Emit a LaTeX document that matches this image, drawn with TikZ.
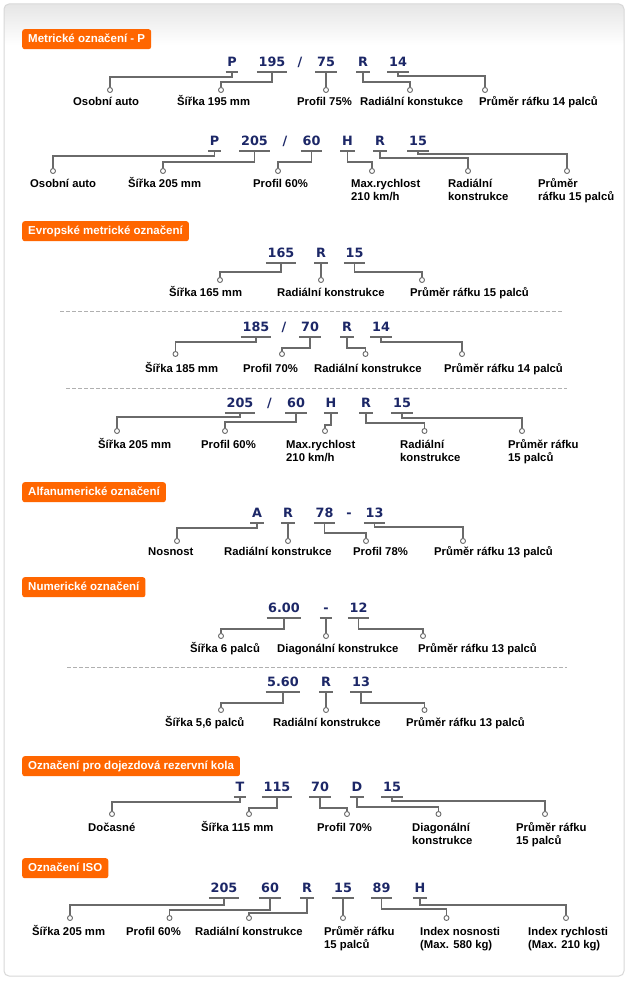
\documentclass[tikz,border=0pt]{standalone}
\usepackage{fontspec}
\setmainfont{Liberation Sans}
\newfontfamily\codefont{DejaVu Sans}
\definecolor{hdrorange}{HTML}{FF6600}
\definecolor{codeblue}{HTML}{1C2767}
\definecolor{linegray}{HTML}{6A6A6A}
\definecolor{framegray}{HTML}{D8D8D8}
\definecolor{dashgray}{HTML}{B0B0B0}

\begin{document}
\begin{tikzpicture}[x=1pt,y=-1pt,
  hdr/.style={anchor=north west,fill=hdrorange,text=white,rounded corners=2.5pt,
    font=\bfseries\fontsize{11.5}{13}\selectfont,inner xsep=6pt,inner ysep=0pt,
    minimum height=20pt,text height=8.5pt,text depth=2.5pt},
  link/.style={draw=linegray,line width=1.2pt},
  tsep/.style={anchor=south,text=codeblue,font=\codefont\bfseries\fontsize{12.8}{14}\selectfont,
    text height=9pt,text depth=0pt,inner xsep=1.5pt,inner ysep=5.5pt},
  tcode/.style={tsep,minimum width=12pt,append after command={(\tikzlastnode.south west) edge[link] (\tikzlastnode.south east)}},
  ring/.style={circle,draw=linegray,fill=white,line width=0.9pt,minimum size=5pt,inner sep=0pt},
  lbl/.style={anchor=north west,yshift=11pt,align=left,inner sep=0pt,font=\bfseries\fontsize{11.3}{13}\selectfont},
  sepline/.style={draw=dashgray,dash pattern=on 4pt off 2pt,line width=1pt}]
  \useasboundingbox (0,0) rectangle (629,981);
  \fill[white] (0,0) rectangle (629,981);
  \shade[top color=black!10,bottom color=white,rounded corners=5pt] (4,45) -- (4,4) -- (624,4) -- (624,45) -- cycle;
  \draw[framegray,line width=1pt,rounded corners=5pt] (4,4) rectangle (624,976);

  \node[hdr] (h1) at (22,29) {Metrické označení - P};
  \node[tsep] (a-sl) at (300,72) {/};
  \foreach \nm/\txt/\cx/\dy/\ox/\lx/\lab in {1/P/232/5/110/73/Osobní auto,2/195/272/10/221/177/Šířka 195 mm,
      3/75/326/0/326/297/Profil 75\%,4/R/363/10/410/360/Radiální konstukce,5/14/398/4/485/479/Průměr ráfku 14 palců} {
    \node[tcode] (a\nm) at (\cx,72) {\txt};
    \node[ring] (a\nm-o) at (\ox,90) {};
    \node[lbl] (a\nm-l) at (\lx,105) {\rule{0pt}{11pt}\lab};
    \draw[link] (a\nm.south) -- ++(0,\dy) -| (a\nm-o.north);
  }

  \node[tsep] (b-sl) at (285,151) {/};
  \foreach \nm/\txt/\cx/\dy/\ox/\lx/\lab in {1/P/214.5/5/53/30/Osobní auto,2/205/254.5/11/163/128/Šířka 205 mm,
      3/60/311.5/11/278/253/Profil 60\%,4/H/347.5/11/372/351/{Max.rychlost\\210 km/h},
      5/R/380/7/468/448/{Radiální\\konstrukce},6/15/418/3/567/538/{Průměr\\ráfku 15 palců}} {
    \node[tcode] (b\nm) at (\cx,151) {\txt};
    \node[ring] (b\nm-o) at (\ox,171) {};
    \node[lbl] (b\nm-l) at (\lx,187) {\rule{0pt}{11pt}\lab};
    \draw[link] (b\nm.south) -- ++(0,\dy) -| (b\nm-o.north);
  }

  \node[hdr] (h2) at (22,221) {Evropské metrické označení};
  \foreach \nm/\txt/\cx/\dy/\ox/\lx/\lab in {1/165/281/9/220/169/Šířka 165 mm,2/R/321/0/321/277/Radiální konstrukce,
      3/15/354.5/9/422/410/Průměr ráfku 15 palců} {
    \node[tcode] (c\nm) at (\cx,263) {\txt};
    \node[ring] (c\nm-o) at (\ox,280) {};
    \node[lbl] (c\nm-l) at (\lx,296) {\rule{0pt}{11pt}\lab};
    \draw[link] (c\nm.south) -- ++(0,\dy) -| (c\nm-o.north);
  }
  \draw[sepline] (60,311) -- (562,311);

  \node[tsep] (d-sl) at (284,337) {/};
  \foreach \nm/\txt/\cx/\dy/\ox/\lx/\lab in {1/185/256/5/175.5/145/Šířka 185 mm,2/70/310/11/282/243/Profil 70\%,
      3/R/347/11/365.5/314/Radiální konstrukce,4/14/381/5/462/444/Průměr ráfku 14 palců} {
    \node[tcode] (d\nm) at (\cx,337) {\txt};
    \node[ring] (d\nm-o) at (\ox,354) {};
    \node[lbl] (d\nm-l) at (\lx,372) {\rule{0pt}{11pt}\lab};
    \draw[link] (d\nm.south) -- ++(0,\dy) -| (d\nm-o.north);
  }
  \draw[sepline] (66,388) -- (567,388);

  \node[tsep] (e-sl) at (269.5,413) {/};
  \foreach \nm/\txt/\cx/\dy/\ox/\lx/\lab in {1/205/240/4/117/98/Šířka 205 mm,2/60/296/9/225/201/Profil 60\%,
      3/H/331/12/325/286/{Max.rychlost\\210 km/h},4/R/366/10/424.5/400/{Radiální\\konstrukce},
      5/15/402/5/522/508/{Průměr ráfku\\15 palců}} {
    \node[tcode] (e\nm) at (\cx,413) {\txt};
    \node[ring] (e\nm-o) at (\ox,431) {};
    \node[lbl] (e\nm-l) at (\lx,448) {\rule{0pt}{11pt}\lab};
    \draw[link] (e\nm.south) -- ++(0,\dy) -| (e\nm-o.north);
  }

  \node[hdr] (h3) at (22,482) {Alfanumerické označení};
  \node[tsep] (f-sl) at (349,523) {-};
  \foreach \nm/\txt/\cx/\dy/\ox/\lx/\lab in {1/A/257/5/177/148/Nosnost,2/R/288/0/288/224/Radiální konstrukce,
      3/78/324.5/10/366/353/Profil 78\%,4/13/374.5/4/463/434/Průměr ráfku 13 palců} {
    \node[tcode] (f\nm) at (\cx,523) {\txt};
    \node[ring] (f\nm-o) at (\ox,541) {};
    \node[lbl] (f\nm-l) at (\lx,555) {\rule{0pt}{11pt}\lab};
    \draw[link] (f\nm.south) -- ++(0,\dy) -| (f\nm-o.north);
  }

  \node[hdr] (h4) at (22,577) {Numerické označení};
  \foreach \nm/\txt/\cx/\dy/\ox/\lx/\lab in {1/6.00/284/11/221/190/Šířka 6 palců,2/-/326/0/326/277/Diagonální konstrukce,
      3/12/358.5/11/423/418/Průměr ráfku 13 palců} {
    \node[tcode] (g\nm) at (\cx,618) {\txt};
    \node[ring] (g\nm-o) at (\ox,636) {};
    \node[lbl] (g\nm-l) at (\lx,652) {\rule{0pt}{11pt}\lab};
    \draw[link] (g\nm.south) -- ++(0,\dy) -| (g\nm-o.north);
  }
  \draw[sepline] (67,667) -- (567,667);

  \foreach \nm/\txt/\cx/\dy/\ox/\lx/\lab in {1/5.60/283/11/221/165/{Šířka 5,6 palců},2/R/326/0/326/273/Radiální konstrukce,
      3/13/361/11/424.5/406/Průměr ráfku 13 palců} {
    \node[tcode] (k\nm) at (\cx,692) {\txt};
    \node[ring] (k\nm-o) at (\ox,710) {};
    \node[lbl] (k\nm-l) at (\lx,726) {\rule{0pt}{11pt}\lab};
    \draw[link] (k\nm.south) -- ++(0,\dy) -| (k\nm-o.north);
  }

  \node[hdr] (h5) at (22,756) {Označení pro dojezdová rezervní kola};
  \foreach \nm/\txt/\cx/\dy/\ox/\lx/\lab in {1/T/240/5/112/88/Dočasné,2/115/277/11/249/201/Šířka 115 mm,
      3/70/320/11/347/317/Profil 70\%,4/D/357/10/438.5/412/{Diagonální\\konstrukce},
      5/15/392/4/545/516/{Průměr ráfku\\15 palců}} {
    \node[tcode] (m\nm) at (\cx,797) {\txt};
    \node[ring] (m\nm-o) at (\ox,814) {};
    \node[lbl] (m\nm-l) at (\lx,831) {\rule{0pt}{11pt}\lab};
    \draw[link] (m\nm.south) -- ++(0,\dy) -| (m\nm-o.north);
  }

  \node[hdr] (h6) at (22,858) {Označení ISO};
  \foreach \nm/\txt/\cx/\dy/\ox/\lx/\lab in {1/205/224/7/70/32/Šířka 205 mm,2/60/270/12/169.5/126/Profil 60\%,
      3/R/307/15/249/195/Radiální konstrukce,4/15/343/0/343/324/{Průměr ráfku\\15 palců},
      5/89/381.5/11/446.5/420/{Index nosnosti\\(Max. 580 kg)},6/H/420/7/566/528/{Index rychlosti\\(Max. 210 kg)}} {
    \node[tcode] (n\nm) at (\cx,898) {\txt};
    \node[ring] (n\nm-o) at (\ox,918) {};
    \node[lbl] (n\nm-l) at (\lx,935) {\rule{0pt}{11pt}\lab};
    \draw[link] (n\nm.south) -- ++(0,\dy) -| (n\nm-o.north);
  }
\end{tikzpicture}
\end{document}
